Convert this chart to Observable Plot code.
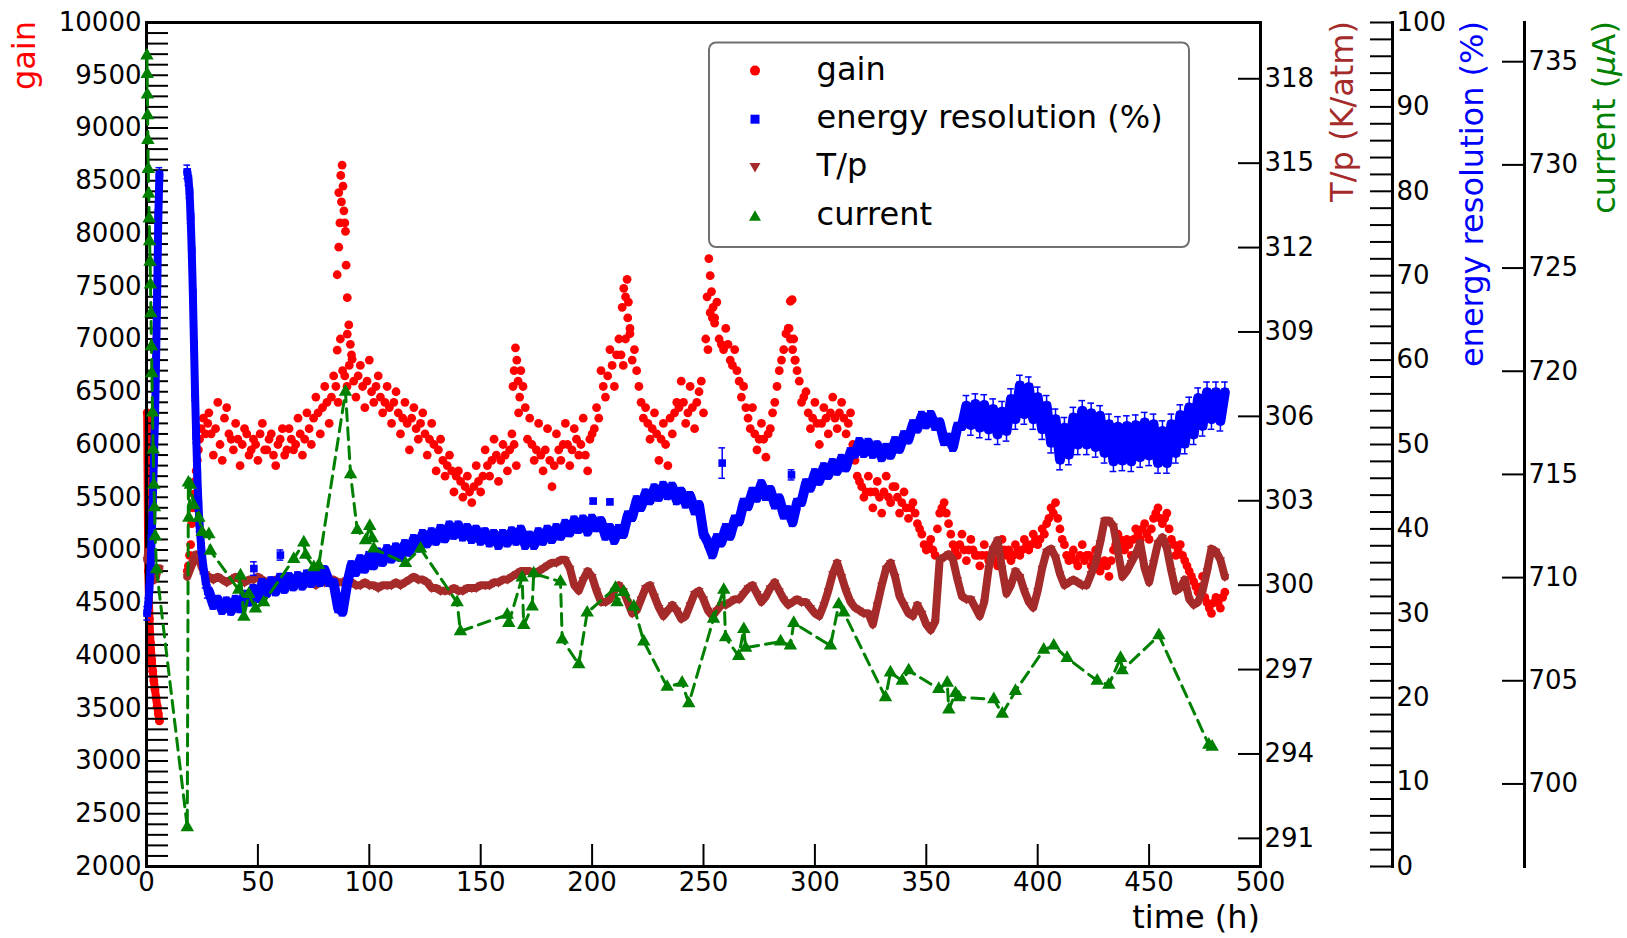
<!DOCTYPE html>
<html>
<head>
<meta charset="utf-8">
<script src="https://cdn.jsdelivr.net/npm/d3@7"></script>
<script src="https://cdn.jsdelivr.net/npm/@observablehq/plot@0.6"></script>
<style>
html, body { margin: 0; padding: 0; background: #fff; }
#chart { position: relative; width: 1627px; height: 938px; font-family: "DejaVu Sans", sans-serif; background: #fff; }
.yt { position: absolute; top: 21px; font-size: 32px; line-height: 32px; white-space: nowrap; transform-origin: 0 0; transform: rotate(-90deg) translateX(-100%); }
.xt { position: absolute; right: 367px; top: 902px; font-size: 32px; line-height: 30px; white-space: nowrap; color: #000; }
</style>
</head>
<body>
<div id="chart"></div>
<script>
// ---------------- data ----------------
// measurement times (h): first strip, second strip, main run (even hours), main run (odd hours)
const hoursA = [0.3,0.8,1.3,1.8,2.3,2.8,3.3,3.8,4.3,4.8,5.3,5.8];
const hoursB = [18.3,18.8,19.3,19.8,20.3,20.8,21.3,21.8,22.3,22.8,23.3,23.8,24.5,25.5,26.5,27.5];
const hoursC = [28,30,32,34,36,38,40,42,44,46,
48,50,52,54,56,58,60,62,64,66,
68,70,72,74,76,78,80,82,84,86,
88,90,92,94,96,98,100,102,104,106,
108,110,112,114,116,118,120,122,124,126,
128,130,132,134,136,138,140,142,144,146,
148,150,152,154,156,158,160,162,164,166,
168,170,172,174,176,178,180,182,184,186,
188,190,192,194,196,198,200,202,204,206,
208,210,212,214,216,218,220,222,224,226,
228,230,232,234,236,238,240,242,244,246,
248,250,252,254,256,258,260,262,264,266,
268,270,272,274,276,278,280,282,284,286,
288,290,292,294,296,298,300,302,304,306,
308,310,312,314,316,318,320,322,324,326,
328,330,332,334,336,338,340,342,344,346,
348,350,352,354,356,358,360,362,364,366,
368,370,372,374,376,378,380,382,384,386,
388,390,392,394,396,398,400,402,404,406,
408,410,412,414,416,418,420,422,424,426,
428,430,432,434,436,438,440,442,444,446,
448,450,452,454,456,458,460,462,464,466,
468,470,472,474,476,478,480,482,484];
const hoursD = [29,31,33,35,37,39,41,43,45,47,
49,51,53,55,57,59,61,63,65,67,
69,71,73,75,77,79,81,83,85,87,
89,91,93,95,97,99,101,103,105,107,
109,111,113,115,117,119,121,123,125,127,
129,131,133,135,137,139,141,143,145,147,
149,151,153,155,157,159,161,163,165,167,
169,171,173,175,177,179,181,183,185,187,
189,191,193,195,197,199,201,203,205,207,
209,211,213,215,217,219,221,223,225,227,
229,231,233,235,237,239,241,243,245,247,
249,251,253,255,257,259,261,263,265,267,
269,271,273,275,277,279,281,283,285,287,
289,291,293,295,297,299,301,303,305,307,
309,311,313,315,317,319,321,323,325,327,
329,331,333,335,337,339,341,343,345,347,
349,351,353,355,357,359,361,363,365,367,
369,371,373,375,377,379,381,383,385,387,
389,391,393,395,397,399,401,403,405,407,
409,411,413,415,417,419,421,423,425,427,
429,431,433,435,437,439,441,443,445,447,
449,451,453,455,457,459,461,463,465,467,
469,471,473,475,477,479,481,483];

// gain
const gainA = [6300,4800,4350,4120,3960,3850,3760,3680,3600,3520,3450,3380];
const gainB = [4800,4850,4950,5050,5250,5400,5530,5650,5750,5850,5950,6050,6150,6250,6100,6200];
const gainC = [6300,5900,6400,5850,6350,6050,6200,5800,6150,5900,
6050,5850,6200,5950,6100,5800,6050,5900,6150,5950,
6250,5900,6300,6000,6450,6100,6550,6200,6650,6400,
6700,6550,6850,6450,6750,6350,6800,6400,6650,6300,
6550,6200,6500,6100,6400,5950,6350,6050,6300,5900,
6200,5750,6050,5700,5900,5550,5750,5500,5700,5450,
5800,5550,5950,5700,6050,5650,6000,5750,6100,5800,
6700,6350,6250,5850,6200,5750,6150,5600,6100,5850,
6200,5800,6150,5900,6250,5750,6100,6350,6700,6450,
6900,6550,7000,6750,7200,6800,6700,6400,6350,6050,
6300,5850,6200,5800,6100,6400,6600,6200,6550,6150,
6500,6300,6900,7200,7350,6950,7100,6800,6900,6600,
6550,6250,6350,5950,6200,5880,6150,6400,6700,6900,
7100,6900,6700,6400,6500,6150,6400,6000,6350,6100,
6450,6150,6400,6100,6300,5850,5650,5500,5700,5400,
5650,5350,5700,5450,5600,5350,5550,5300,5450,5250,
5150,5000,5100,4950,5350,5450,5250,5050,4950,5150,
4900,5100,4950,4850,5050,4900,5000,4850,5100,4950,
4900,5050,4950,5100,5000,5150,5050,5200,5250,5400,
5450,5200,5050,4900,5000,4850,5050,4950,4850,5000,
4800,4900,4750,5000,5150,5050,5100,4950,5200,5100,
5250,5100,5300,5400,5250,5350,5100,4950,5050,4900,
4800,4700,4600,4750,4500,4400,4550,4450,4600];
const gainD = [6100,6150,6000,6250,6100,5950,6050,6000,6100,5950,
6000,6100,5950,6050,5900,6000,6150,5950,6050,6000,
6100,6050,6150,6250,6300,6350,6400,6450,6550,7000,
6650,6750,6600,6650,6550,6600,6500,6550,6450,6400,
6350,6400,6300,6250,6200,6250,6150,6200,6100,6050,
6000,5950,5850,5800,5750,5700,5650,5600,5550,5600,
5650,5700,5800,5850,5900,5850,5900,5950,6000,6300,
6550,6050,6000,5950,5900,5950,5850,5800,5950,6000,
6000,5950,6050,6000,5900,6050,6150,6250,6550,6650,
6750,6850,6850,7000,7050,6900,6550,6250,6200,6150,
6100,6050,6000,6250,6300,6350,6400,6300,6350,6400,
6600,7000,7250,7150,7000,6900,6950,6750,6700,6450,
6350,6150,6100,6050,6050,6100,6300,6550,6800,7050,
7000,6800,6600,6450,6300,6250,6200,6200,6250,6300,
6250,6300,6250,6200,6000,5700,5600,5550,5550,5550,
5500,5550,5500,5600,5500,5450,5400,5400,5350,5200,
5050,5050,5000,5200,5400,5350,5150,5000,5050,5000,
5000,5000,4950,4950,4950,4950,4900,4950,5000,5000,
4950,5000,5000,5050,5050,5100,5100,5150,5300,5350,
5300,5100,4950,4950,4900,4950,4900,4950,4900,4900,
4850,4850,4900,5050,5100,5000,5050,5100,5150,5200,
5150,5200,5350,5300,5300,5200,5050,5000,4950,4850,
4750,4650,4650,4550,4450,4500,4500,4550];
// gain peaks (extra dense readings)
const gainPeakT = [85.6,85.6,86.3,86.3,86.8,87.2,87.5,87.8,88.2,88.6,89.0,89.3,89.6,90.1,90.1,90.8,91.5,92.3,
164.5,165.0,165.6,166.2,166.8,167.5, 213.5,214.2,215.0,215.7,216.3,217.0,
251.6,252.4,253.0,253.6,254.3,255.0, 288.4,289.0,289.8,290.5,291.2];
const gainPeak = [6894,7609,7870,8388,8100,8550,8300,8649,8450,8215,8100,8021,7700,7392,7046,7133,6950,6808,
6550,6700,6916,6800,6600,6450, 7300,7480,7400,7566,7350,7100,
7400,7762,7600,7450,7300,7200, 7100,7358,7373,7000,6800];

// energy resolution (%)
const resA = [30,31,33,35,39,43,48,53,60,68,77,82];
const resB = [82.3,81.5,80,77,73,68,62,56,51,46.5,43,40.5,38,35.5,33.8,32.6];
const resC = [32.6,31.0,31.6,30.4,31.4,30.3,31.6,30.6,32.2,31.4,
32.9,31.8,33.6,32.4,33.8,32.6,34.2,32.9,34.3,33.2,
34.4,33.3,34.6,33.6,34.9,33.7,35.1,33.7,33.6,30.6,
30.2,33.4,35.7,34.9,36.4,35.3,36.8,35.7,37.2,36.1,
37.6,36.5,37.8,36.7,38.2,37.3,38.8,37.8,39.4,38.3,
39.6,38.6,40.0,38.9,40.4,39.3,40.4,39.1,40.1,38.8,
39.9,38.6,39.6,38.4,39.4,38.1,39.4,38.4,39.7,38.6,
39.9,38.1,39.2,38.1,39.6,38.6,39.9,38.8,40.1,39.2,
40.6,39.6,41.0,40.0,41.1,39.7,41.2,40.2,40.9,39.2,
40.1,38.7,40.0,39.4,41.6,41.4,43.4,42.6,44.2,43.4,
44.8,43.8,45.1,44.0,45.0,43.4,44.4,43.0,43.9,42.2,
42.8,39.4,38.4,37.0,38.9,38.4,40.1,39.2,41.1,40.9,
43.1,42.7,44.4,43.7,45.3,43.9,44.6,42.9,43.6,41.7,
42.2,40.8,43.1,43.2,45.4,44.9,46.6,45.7,47.3,46.4,
47.8,46.9,48.3,47.3,49.1,48.9,50.3,49.0,50.2,48.9,
49.9,48.5,49.6,48.8,50.4,49.5,51.1,50.6,52.4,51.9,
53.4,52.4,53.5,52.2,52.6,50.4,50.8,49.7,52.1,52.2,
54.6,52.3,54.8,52.0,54.7,51.8,54.2,51.2,53.9,51.6,
55.4,53.0,57.0,53.6,56.8,53.0,55.6,51.8,54.6,50.2,
53.0,48.2,52.0,48.8,53.2,50.0,54.0,50.0,53.7,49.7,
53.4,49.0,52.4,48.0,52.1,48.1,52.2,48.0,52.3,48.5,
52.6,48.7,52.4,47.8,51.6,47.8,52.4,49.0,53.5,50.1,
54.4,51.2,55.5,52.2,56.2,53.0,56.2,52.8,56.2];
// error half-widths per time range [from, to, err]
const resErrRanges = [[0, 28, 0.8], [28, 368, 0.5], [368, 490, 1.2]];
// isolated energy-resolution readings
const resOddT = [48.2, 60.1, 200.5, 208.0, 258.4, 289.5];
const resOdd = [35.3, 36.9, 43.3, 43.2, 47.8, 46.4];
const resOddErr = [0.8, 0.6, 0.3, 0.3, 1.8, 0.6];

// T/p (K/atm)
const tpA = [300.9,301.2,301.1,300.8,300.5,300.3,300.2,300.2,300.3,300.5,300.6,300.6];
const tpB = [300.3,300.4,300.5,300.6,300.7,300.8,300.9,301.0,301.1,301.1,301.0,300.9,300.7,300.5,300.4,300.3];
const tpC = [300.3,300.2,300.3,300.2,300.1,300.2,300.3,300.2,300.1,300.2,
300.2,300.3,300.2,300.1,300.1,300.2,300.1,300.1,300.2,300.1,
300.1,300.0,300.1,300.1,300.0,300.1,300.1,300.2,300.2,300.1,
300.1,300.2,300.1,300.0,300.0,300.1,300.0,300.0,299.9,300.0,
300.0,300.0,300.1,300.0,300.1,300.2,300.3,300.2,300.2,300.1,
299.9,299.9,299.8,299.8,299.8,299.9,299.8,299.8,299.9,299.9,
299.9,300.0,300.0,300.0,300.1,300.1,300.2,300.2,300.3,300.4,
300.5,300.5,300.5,300.4,300.5,300.6,300.7,300.8,300.8,300.9,
300.9,300.6,300.0,299.8,300.2,300.5,300.3,299.8,299.4,299.4,
299.5,299.8,300.0,299.8,299.4,299.0,299.1,299.5,299.9,300.0,
299.6,299.2,298.9,299.1,299.3,299.1,298.8,298.9,299.3,299.7,
299.8,299.5,299.1,298.9,299.1,299.3,299.3,299.4,299.5,299.5,
299.7,299.9,300.0,299.7,299.4,299.6,299.9,300.1,299.8,299.5,
299.3,299.4,299.5,299.4,299.4,299.2,299.0,298.9,299.3,299.8,
300.4,300.8,300.3,299.8,299.4,299.2,299.1,299.0,299.0,298.6,
299.3,300.0,300.6,300.8,300.3,299.6,299.3,299.0,298.9,299.3,
299.0,298.6,298.4,298.7,300.9,301.0,301.1,300.9,300.2,299.6,
299.5,299.5,299.2,298.9,299.4,300.6,301.3,301.6,300.6,299.7,
300.0,300.5,300.3,299.8,299.4,299.2,299.8,300.6,301.2,301.3,
301.0,300.4,300.0,300.1,300.2,300.1,300.0,300.0,300.4,300.8,
301.5,302.3,302.3,302.1,301.2,300.3,300.5,300.8,301.1,301.5,
300.6,300.1,300.8,301.5,301.7,301.3,300.5,299.8,299.9,300.2,
299.5,299.3,299.4,299.8,300.5,301.3,301.2,300.9,300.3];

// current (uA)
const curT = [0.2,0.3,0.4,0.5,0.6,0.8,1.0,1.2,1.4,1.6,1.8,2.0,2.2,2.4,2.7,3.0,3.3,3.6,3.9,4.5,
18.3,18.8,19.0,19.7,21.2,23.5,25.0,28.0,28.7,41.4,42.2,43.7,45.9,48.9,52.6,66.1,70.6,71.4,75.1,77.3,
89.3,91.6,94.6,98.3,100.2,101.3,102.0,116.2,123.0,139.4,140.9,161.9,162.6,168.6,169.3,173.1,173.8,185.8,186.6,194.0,
197.8,210.5,211.2,214.2,218.7,223.2,233.7,240.4,243.4,254.5,259.1,259.9,265.8,268.1,268.9,284.6,289.0,290.5,307.0,310.7,
313.0,331.7,333.9,339.2,342.1,355.6,359.4,360.1,363.1,364.6,380.3,384.1,390.0,402.7,407.2,413.2,426.7,431.9,437.2,437.9,
454.4,476.8,478.3];
const cur = [735.3,734.4,733.4,732.4,731.2,729.8,728.6,727.4,726.3,725.3,724.2,722.8,721.2,719.9,718.0,716.2,714.5,713.4,712.0,710.4,
697.9,714.6,712.9,714.5,713.5,712.9,712.2,712.1,711.3,709.4,710.1,708.1,709.2,708.5,708.8,710.9,711.7,711.1,710.5,710.6,
719.0,715.0,712.3,711.8,712.5,711.9,711.4,710.7,711.4,708.8,707.4,708.2,707.8,710.0,707.7,708.6,710.2,709.8,707.0,705.8,
708.3,709.5,708.8,709.3,708.6,706.9,704.7,704.9,703.9,708.0,709.4,707.1,706.2,707.5,706.6,706.9,706.7,707.8,706.7,708.7,
708.3,704.2,705.4,705.0,705.5,704.6,704.9,703.6,704.4,704.2,704.1,703.4,704.5,706.5,706.7,706.1,705.0,704.8,706.1,705.5,
707.2,701.9,701.8];

// axes: tick labels
const timeTicks = [0,50,100,150,200,250,300,350,400,450,500];
const gainTicks = [2000,2500,3000,3500,4000,4500,5000,5500,6000,6500,7000,7500,8000,8500,9000,9500,10000];
const tpTicks = [291,294,297,300,303,306,309,312,315,318];
const resTicks = [0,10,20,30,40,50,60,70,80,90,100];
const curTicks = [700,705,710,715,720,725,730,735];
const legendLabels = ["gain", "energy resolution (%)", "T/p", "current"];

// ---------------- build ----------------
[["gainA",hoursA,gainA],["gainB",hoursB,gainB],["gainC",hoursC,gainC],["gainD",hoursD,gainD],["resA",hoursA,resA],["resB",hoursB,resB],["resC",hoursC,resC],
 ["tpA",hoursA,tpA],["tpB",hoursB,tpB],["tpC",hoursC,tpC],["cur",curT,cur],["peak",gainPeakT,gainPeak]].forEach(([n,a,b]) => {
  if (a.length !== b.length) console.error("length mismatch", n, a.length, b.length);
});

function pts(hours, vals, seg) {
  const out = [];
  hours.forEach((t, i) => { if (vals[i] != null) out.push({t, v: vals[i], seg}); });
  return out;
}
const errFor = t => { const r = resErrRanges.find(r => t >= r[0] && t < r[1]); return r ? r[2] : 0.5; };

const gainPts = [...pts(hoursA, gainA, "A"), ...pts(hoursB, gainB, "B"), ...pts(hoursC, gainC, "C"), ...pts(hoursD, gainD, "D"), ...pts(gainPeakT, gainPeak, "P")];
const resPts = [...pts(hoursA, resA, "A"), ...pts(hoursB, resB, "B"), ...pts(hoursC, resC, "C")].map(d => ({...d, e: errFor(d.t)}));
const resOddPts = resOddT.map((t, i) => ({t, v: resOdd[i], e: resOddErr[i], seg: "O"}));
const resAll = [...resPts, ...resOddPts];
const tpPts = [...pts(hoursA, tpA, "A"), ...pts(hoursB, tpB, "B"), ...pts(hoursC, tpC, "C")];
const curPts = curT.map((t, i) => ({t, v: cur[i]}));

const RED = "#ff0000", BLUE = "#0000ff", BROWN = "#a52a2a", GREEN = "#008000";
const W = 1627, H = 938;
const FL = 146, FR = 1260, FT = 22, FB = 866;
const TL = 22; // tick length
const svgStyle = "position:absolute;left:0;top:0;background:transparent;overflow:visible;max-width:none;font-family:'DejaVu Sans',sans-serif;font-size:26px;";
const base = {width: W, height: H, marginTop: FT, marginBottom: H - FB, marginLeft: FL, style: svgStyle};
const xScale = {domain: [0, 500], range: [FL, FR]};
const minor = (a, b, s) => d3.range(a, b + s / 2, s);

const chart = document.getElementById("chart");

// gain layer (main frame)
chart.appendChild(Plot.plot({
  ...base, marginRight: W - FR,
  x: xScale, y: {domain: [2000, 10000]},
  marks: [
    Plot.line(gainPts.filter(d => d.seg === "A"), {x: "t", y: "v", stroke: RED, strokeWidth: 8, strokeLinecap: "round", strokeLinejoin: "round"}),
    Plot.dot(gainPts, {x: "t", y: "v", r: 4.4, fill: RED}),
    Plot.tickY(minor(2000, 10000, 100), {y: d => d, insetRight: (FR - FL) - TL, stroke: "black", strokeWidth: 2}),
    Plot.tickX(timeTicks, {x: d => d, insetTop: (FB - FT) - TL, stroke: "black", strokeWidth: 2}),
    Plot.axisY({anchor: "left", ticks: gainTicks, tickSize: 0, tickPadding: 5, tickFormat: d => String(d), label: null, fontSize: 26}),
    Plot.axisX({anchor: "bottom", ticks: timeTicks, tickSize: 0, tickPadding: 6, tickFormat: d => String(d), label: null, fontSize: 26}),
    Plot.frame({stroke: "black", strokeWidth: 3})
  ]
}));

// T/p layer
chart.appendChild(Plot.plot({
  ...base, marginRight: W - FR,
  x: {...xScale, axis: null}, y: {domain: [290, 320]},
  marks: [
    Plot.line(tpPts, {x: "t", y: "v", z: "seg", stroke: BROWN, strokeWidth: 8, strokeLinecap: "round", strokeLinejoin: "round"}),
    Plot.dot(tpPts, {x: "t", y: "v", symbol: "triangle", rotate: 180, r: 3.4, fill: BROWN}),
    Plot.tickY(tpTicks, {y: d => d, insetLeft: (FR - FL) - TL, stroke: "black", strokeWidth: 2}),
    Plot.axisY({anchor: "right", ticks: tpTicks, tickSize: 0, tickPadding: 4, tickFormat: d => String(d), label: null, fontSize: 26})
  ]
}));

// energy resolution layer (axis line at x = 1392)
const RX = 1392;
chart.appendChild(Plot.plot({
  ...base, marginRight: W - RX,
  x: {...xScale, axis: null}, y: {domain: [0, 100]},
  marks: [
    Plot.line(resPts.filter(d => d.seg !== "C"), {x: "t", y: "v", z: "seg", stroke: BLUE, strokeWidth: 8, strokeLinecap: "round", strokeLinejoin: "round"}),
    Plot.line(resPts.filter(d => d.seg === "C"), {x: "t", y: "v", stroke: BLUE, strokeWidth: 10, strokeLinejoin: "round"}),
    Plot.ruleX(resAll, {x: "t", y1: d => d.v - d.e, y2: d => d.v + d.e, stroke: BLUE, strokeWidth: 1.5}),
    Plot.ruleY(resAll, {y: d => d.v + d.e, x1: d => d.t - 1.5, x2: d => d.t + 1.5, stroke: BLUE, strokeWidth: 1.5}),
    Plot.ruleY(resAll, {y: d => d.v - d.e, x1: d => d.t - 1.5, x2: d => d.t + 1.5, stroke: BLUE, strokeWidth: 1.5}),
    Plot.dot(resAll, {x: "t", y: "v", symbol: "square", r: 4.3, fill: BLUE}),
    Plot.tickY(minor(0, 100, 2), {y: d => d, insetLeft: (RX - FL) - TL, stroke: "black", strokeWidth: 2}),
    Plot.frame({anchor: "right", stroke: "black", strokeWidth: 3}),
    Plot.axisY({anchor: "right", ticks: resTicks, tickSize: 0, tickPadding: 4, tickFormat: d => String(d), label: null, fontSize: 26})
  ]
}));

// current layer (axis line at x = 1524)
const CX = 1524;
chart.appendChild(Plot.plot({
  ...base, marginRight: W - CX,
  x: {...xScale, axis: null}, y: {domain: [696, 736.9]},
  marks: [
    Plot.line(curPts, {x: "t", y: "v", stroke: GREEN, strokeWidth: 3, strokeDasharray: "12,7"}),
    Plot.dot(curPts, {x: "t", y: "v", symbol: "triangle", r: 5, fill: GREEN}),
    Plot.tickY(curTicks, {y: d => d, insetLeft: (CX - FL) - TL, stroke: "black", strokeWidth: 2}),
    Plot.frame({anchor: "right", stroke: "black", strokeWidth: 3}),
    Plot.axisY({anchor: "right", ticks: curTicks, tickSize: 0, tickPadding: 4, tickFormat: d => String(d), label: null, fontSize: 26})
  ]
}));

// axis titles
chart.insertAdjacentHTML("beforeend", `
<div class="yt" style="left:8px;color:${RED}">gain</div>
<div class="yt" style="left:1326px;color:${BROWN}">T/p (K/atm)</div>
<div class="yt" style="left:1456px;color:${BLUE}">energy resolution (%)</div>
<div class="yt" style="left:1588px;color:${GREEN}">current (<i>μ</i>A)</div>
<div class="xt">time (h)</div>`);

// legend
const legendColors = [RED, BLUE, BROWN, GREEN];
const legendSym = [
  c => `<circle cx="0" cy="0" r="5" fill="${c}"/>`,
  c => `<rect x="-4.5" y="-4.5" width="9" height="9" fill="${c}"/>`,
  c => `<path d="M-5.5,-4.5 L5.5,-4.5 L0,5 Z" fill="${c}"/>`,
  c => `<path d="M-6,5 L6,5 L0,-5.5 Z" fill="${c}"/>`
];
const rowY = [29.6, 78.2, 126.4, 174.8];
let leg = `<svg width="484" height="208" style="position:absolute;left:708px;top:41px;overflow:visible">
<rect x="1" y="1.5" width="480" height="204.5" rx="7" fill="#fff" stroke="#707070" stroke-width="2"/>`;
legendLabels.forEach((lab, i) => {
  leg += `<g transform="translate(47,${rowY[i]})">${legendSym[i](legendColors[i])}</g>`;
  leg += `<text x="108.6" y="${rowY[i] + 9}" font-family="DejaVu Sans" font-size="32" fill="#000">${lab}</text>`;
});
leg += `</svg>`;
chart.insertAdjacentHTML("beforeend", leg);
</script>
</body>
</html>
